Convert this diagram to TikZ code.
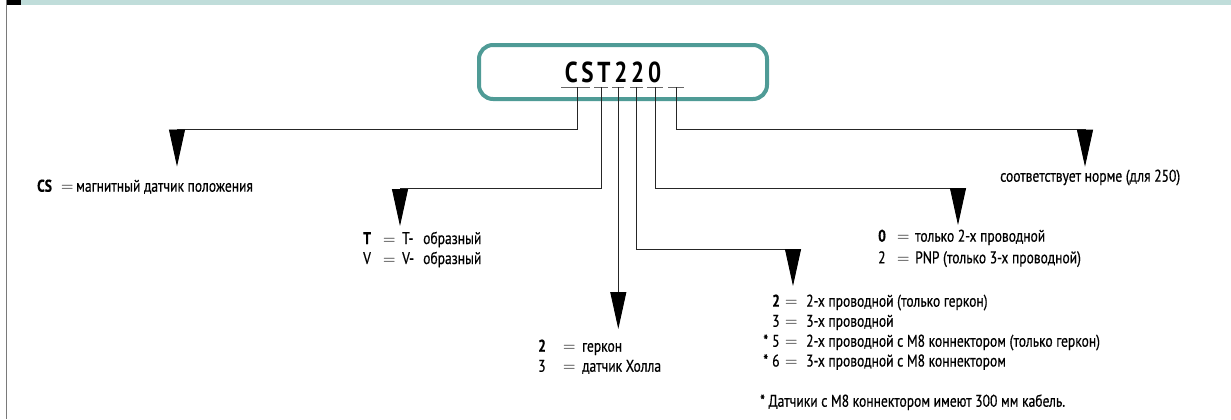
\documentclass[tikz,border=0pt]{standalone}
\usepackage{fontspec}
\setmainfont{PT Sans}[FakeStretch=0.8]
\usetikzlibrary{arrows.meta}
\definecolor{bandcol}{HTML}{C0DDDA}
\definecolor{boxteal}{HTML}{4F9B96}
\definecolor{ruleg}{HTML}{7A7A7A}
\newcommand\eqs{\ensuremath{=}}
\begin{document}
\begin{tikzpicture}[x=1bp,y=-1bp,
  ln/.style={line width=0.9bp, draw=black!85},
  tri/.style={-{Triangle[length=37bp,width=16bp,color=black]}},
  ul/.style={line width=0.9bp, draw=black!60},
  txt/.style={inner sep=0pt, anchor=base west, font=\fontsize{17}{19}\selectfont\addfontfeature{FakeBold=0.5}}]
\useasboundingbox (0,0) rectangle (1231,419);
% top band and left rule
\fill[bandcol] (21,0) rectangle (1231,4.7);
\fill[black] (6,0) rectangle (21,4.7);
\draw[ruleg, line width=1.3bp] (6.6,0) -- (6.6,419);
% code box
\node[draw=boxteal, line width=4bp, rounded corners=14bp, minimum width=288bp, minimum height=54bp, inner sep=0pt] (box) at (623,72) {};
\node[inner sep=0pt, anchor=base, font=\fontsize{29}{30}\selectfont\bfseries\addfontfeature{LetterSpace=13}] (code) at (613,82) {CST220};
% underlines
\draw[ul] (561,87.3) -- (590,87.3);
\draw[ul] (594,87.3) -- (608,87.3);
\draw[ul] (612,87.3) -- (624,87.3);
\draw[ul] (630,87.3) -- (643,87.3);
\draw[ul] (647,87.3) -- (663,87.3);
\draw[ul] (668,87.3) -- (684,87.3);
% connector start points
\coordinate (uCS) at (577.7,87.3);
\coordinate (uT) at (601.7,87.3);
\coordinate (uS) at (618.3,87.3);
\coordinate (uW) at (636.7,87.3);
\coordinate (uO) at (655,87.3);
\coordinate (uN) at (676,87.3);
% bends and tips
\coordinate (bCS) at (577.7,129.3);
\coordinate (tCS) at (177,166.5);
\coordinate (bT) at (601.7,188.8);
\coordinate (tT) at (400,226);
\coordinate (tS) at (618.3,329);
\coordinate (bW) at (636.7,249.3);
\coordinate (tW) at (793,286);
\coordinate (bO) at (655,188.8);
\coordinate (tO) at (958,225);
\coordinate (bN) at (676,129.3);
\coordinate (tN) at (1085,166.7);
% connectors
\draw[ln, tri] (uCS) -- (bCS) -| (tCS);
\draw[ln, tri] (uT) -- (bT) -| (tT);
\draw[ln, tri] (uS) -- (tS);
\draw[ln, tri] (uW) -- (bW) -| (tW);
\draw[ln, tri] (uO) -- (bO) -| (tO);
\draw[ln, tri] (uN) -- (bN) -| (tN);
% texts
\node[txt] (cs) at (37,191.7) {\makebox[24bp][l]{\textbf{CS}}\makebox[15bp][l]{\eqs}магнитный датчик положения};
\node[txt] (t1) at (363,244) {\makebox[20bp][l]{\textbf{T}}\makebox[19bp][l]{\eqs}\makebox[21bp][l]{T-}образный};
\node[txt] (t2) at (363,264) {\makebox[20bp][l]{V}\makebox[19bp][l]{\eqs}\makebox[21bp][l]{V-}образный};
\node[txt] (g1) at (538,351.7) {\makebox[25bp][l]{\textbf{2}}\makebox[19bp][l]{\eqs}геркон};
\node[txt] (g2) at (538,371.7) {\makebox[25bp][l]{3}\makebox[19bp][l]{\eqs}датчик Холла};
\node[txt] (z1) at (878,241.7) {\makebox[19bp][l]{\textbf{0}}\makebox[18bp][l]{\eqs}только 2-х проводной};
\node[txt] (z2) at (878,263.3) {\makebox[19bp][l]{2}\makebox[18bp][l]{\eqs}PNP (только 3-х проводной)};
\node[txt] (w1) at (772,306.7) {\makebox[13bp][l]{\textbf{2}}\makebox[21bp][l]{\eqs}2-х проводной (только геркон)};
\node[txt] (w2) at (772,326.7) {\makebox[13bp][l]{3}\makebox[21bp][l]{\eqs}3-х проводной};
\node[txt] (w3) at (772,346.7) {\llap{*\hspace{4bp}}\makebox[13bp][l]{5}\makebox[21bp][l]{\eqs}2-х проводной с M8 коннектором (только геркон)};
\node[txt] (w4) at (772,366.5) {\llap{*\hspace{4bp}}\makebox[13bp][l]{6}\makebox[21bp][l]{\eqs}3-х проводной с M8 коннектором};
\node[txt] (fn) at (760,406.7) {* Датчики с M8 коннектором имеют 300 мм кабель.};
\node[txt] (norm) at (1000,181.7) {соответствует норме (для 250)};
\end{tikzpicture}
\end{document}
